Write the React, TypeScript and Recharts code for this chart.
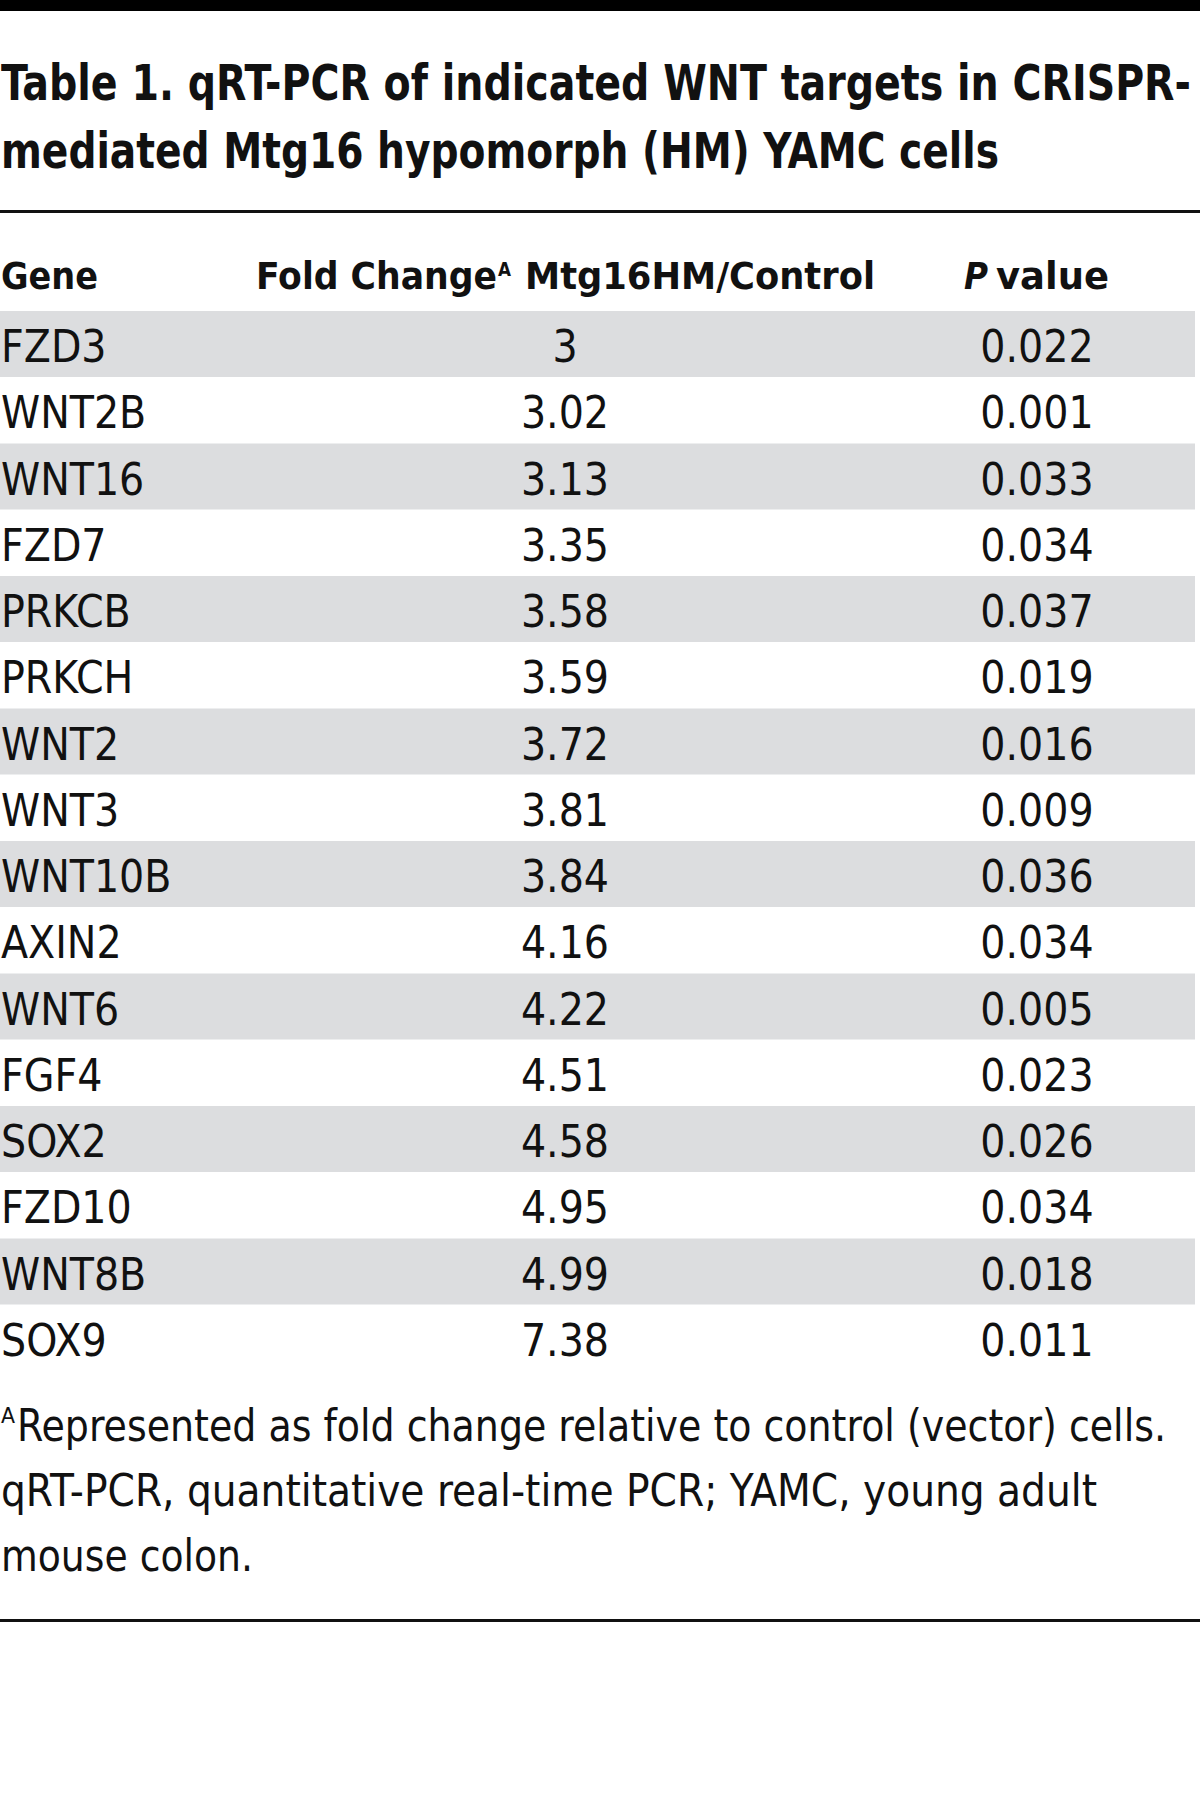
import { BarChart, Bar, XAxis, YAxis, LabelList } from "recharts";

document.body.style.margin = "0";

const genes = [
  "FZD3", "WNT2B", "WNT16", "FZD7", "PRKCB", "PRKCH", "WNT2", "WNT3",
  "WNT10B", "AXIN2", "WNT6", "FGF4", "SOX2", "FZD10", "WNT8B", "SOX9",
];
const foldChange = [3, 3.02, 3.13, 3.35, 3.58, 3.59, 3.72, 3.81, 3.84, 4.16, 4.22, 4.51, 4.58, 4.95, 4.99, 7.38];
const pValues = [0.022, 0.001, 0.033, 0.034, 0.037, 0.019, 0.016, 0.009, 0.036, 0.034, 0.005, 0.023, 0.026, 0.034, 0.018, 0.011];

const rows = genes.map((gene, i) => ({ gene, fold: foldChange[i], p: pValues[i] }));

const FONT = "'DejaVu Sans Condensed', 'DejaVu Sans', sans-serif";
const INK = "#111";
const BAND = "#dcdddf";
const ROW_FS = 44;

// text for one table column, placed in the row's band
const cell = (x: number, anchor: "start" | "middle") => (props: any) => {
  const { y, height, value } = props;
  return (
    <text x={x} y={y + height / 2 + 18} textAnchor={anchor} fontFamily={FONT} fontSize={ROW_FS} fill={INK}>
      {String(value)}
    </text>
  );
};

// every other row gets the grey band
function stripe(props: any) {
  const { x, y, width, height, index } = props;
  if (index % 2 === 1) return <g />;
  return <rect x={x} y={y} width={width} height={height} fill={BAND} />;
}

function T(props: any) {
  const { x, y, w, size, bold, italic, children } = props;
  return (
    <text
      x={x}
      y={y}
      fontFamily={FONT}
      fontSize={size}
      fontWeight={bold ? "bold" : "normal"}
      fontStyle={italic ? "italic" : "normal"}
      fill={INK}
      textLength={w}
      lengthAdjust="spacingAndGlyphs"
    >
      {children}
    </text>
  );
}

export default function App() {
  return (
    <div style={{ position: "relative", width: 1200, height: 1819, background: "#fff" }}>
      <div style={{ position: "absolute", left: 0, top: 311 }}>
        <BarChart
          width={1195}
          height={1060}
          data={rows}
          layout="vertical"
          margin={{ top: 0, right: 0, bottom: 0, left: 0 }}
          barCategoryGap={0}
        >
          <XAxis type="number" hide domain={[0, 8]} />
          <YAxis type="category" dataKey="gene" hide />
          <Bar dataKey="fold" fill="transparent" background={stripe} isAnimationActive={false}>
            <LabelList dataKey="gene" content={cell(1, "start")} />
            <LabelList dataKey="fold" content={cell(565, "middle")} />
            <LabelList dataKey="p" content={cell(1037, "middle")} />
          </Bar>
        </BarChart>
      </div>

      <svg width={1200} height={1819} style={{ position: "absolute", left: 0, top: 0, pointerEvents: "none" }}>
        <rect x={0} y={0} width={1200} height={11} fill="#000" />
        <T x={1} y={100} w={1190} size={50} bold>Table 1. qRT-PCR of indicated WNT targets in CRISPR-</T>
        <T x={1} y={168} w={998} size={50} bold>mediated Mtg16 hypomorph (HM) YAMC cells</T>
        <rect x={0} y={210} width={1200} height={3} fill="#111" />

        <T x={1} y={289} w={97} size={37} bold>Gene</T>
        <T x={256} y={289} w={241} size={37} bold>Fold Change</T>
        <T x={498} y={276} w={13} size={20} bold>A</T>
        <T x={525} y={289} w={350} size={37} bold>Mtg16HM/Control</T>
        <T x={964} y={289} w={24} size={37} bold italic>P</T>
        <T x={996} y={289} w={113} size={37} bold>value</T>

        <T x={1} y={1423} w={14} size={21}>A</T>
        <T x={17} y={1441} w={1149} size={44}>Represented as fold change relative to control (vector) cells.</T>
        <T x={1} y={1506} w={1096} size={44}>qRT-PCR, quantitative real-time PCR; YAMC, young adult</T>
        <T x={1} y={1571} w={252} size={44}>mouse colon.</T>
        <rect x={0} y={1619} width={1200} height={3} fill="#111" />
      </svg>
    </div>
  );
}
